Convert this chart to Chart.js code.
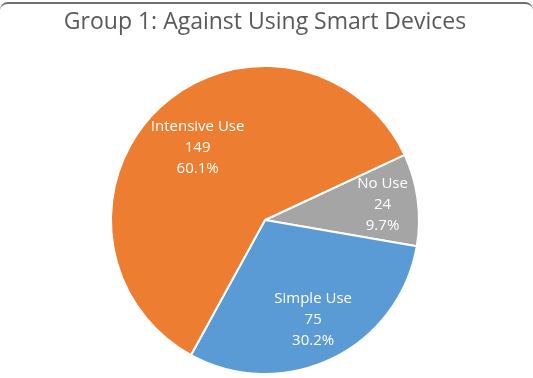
<!DOCTYPE html>
<html>
<head>
<meta charset="utf-8">
<script src="https://cdn.jsdelivr.net/npm/chart.js@4"></script>
<style>
  html, body { margin: 0; padding: 0; background: #fff; }
  .frame { position: relative; width: 533px; height: 378px; overflow: hidden; }
  .edge { position: absolute; left: 0; right: 0; top: 2px; height: 12px;
          border-top: 2px solid #6f6f6f; border-radius: 8px 8px 0 0; }
  canvas { position: absolute; left: 0; top: 0; }
</style>
</head>
<body>
<div class="frame">
  <canvas id="pie" width="533" height="378"></canvas>
  <div class="edge"></div>
</div>
<script>
// data
const categories = ['No Use', 'Simple Use', 'Intensive Use'];
const counts = [24, 75, 149];
const sliceColors = ['#A5A5A5', '#5B9BD5', '#ED7D31'];

// how far out (fraction of radius) each label sits, like Excel's best fit
const labelRadius = [0.77, 0.72, 0.64];

const total = counts.reduce((a, b) => a + b, 0);

// draws "name / value / percent" inside every slice
const sliceLabels = {
  id: 'sliceLabels',
  afterDatasetsDraw(chart) {
    const ctx = chart.ctx;
    const meta = chart.getDatasetMeta(0);
    ctx.save();
    ctx.fillStyle = '#ffffff';
    ctx.font = '15px "Open Sans", sans-serif';
    ctx.textAlign = 'center';
    ctx.textBaseline = 'middle';
    meta.data.forEach((arc, i) => {
      const mid = (arc.startAngle + arc.endAngle) / 2;
      const r = arc.outerRadius * labelRadius[i];
      const x = arc.x + Math.cos(mid) * r;
      const y = arc.y + Math.sin(mid) * r;
      const pct = (counts[i] / total * 100).toFixed(1) + '%';
      const lines = [categories[i], String(counts[i]), pct];
      lines.forEach((t, k) => {
        ctx.fillText(t, x, y + (k - 1) * 21);
      });
    });
    ctx.restore();
  }
};

new Chart(document.getElementById('pie'), {
  type: 'pie',
  data: {
    labels: categories,
    datasets: [{
      data: counts,
      backgroundColor: sliceColors,
      borderColor: '#ffffff',
      borderWidth: 2
    }]
  },
  options: {
    responsive: false,
    animation: false,
    rotation: 65,
    layout: { padding: { left: 0, right: 3, top: 0, bottom: 3 } },
    plugins: {
      legend: { display: false },
      tooltip: { enabled: false },
      title: {
        display: true,
        text: 'Group 1: Against Using Smart Devices',
        color: '#595959',
        font: { family: '"Open Sans", sans-serif', size: 23, weight: 'normal', lineHeight: 1.2 },
        padding: { top: 9, bottom: 28.4 }
      }
    }
  },
  plugins: [sliceLabels]
});
</script>
</body>
</html>
